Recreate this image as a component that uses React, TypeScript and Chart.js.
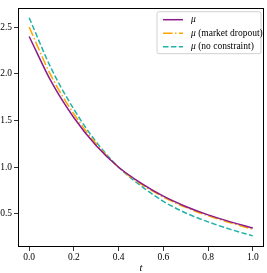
import React, { useEffect, useRef } from "react";
import { Chart, registerables } from "chart.js";

Chart.register(...registerables);

const tValues = [0, 0.1, 0.2, 0.3, 0.4, 0.5, 0.6, 0.7, 0.8, 0.9, 1.0];
const muValues = [2.4, 1.91, 1.53, 1.23, 1.0, 0.83, 0.69, 0.58, 0.49, 0.415, 0.35];
const muDropoutValues = [2.5, 1.97, 1.57, 1.25, 1.0, 0.82, 0.68, 0.57, 0.48, 0.405, 0.335];
const muNoConstraintValues = [2.6, 2.05, 1.62, 1.27, 1.0, 0.8, 0.635, 0.51, 0.415, 0.335, 0.265];

const seriesSymbol = "μ";
const seriesSuffixes = ["", " (market dropout)", " (no constraint)"];
const seriesColors = ["#8b1a8b", "#ffa500", "#20b2aa"];
const seriesDashes: number[][] = [[], [9.6, 2.4, 1.5, 2.4], [5.5, 2.4]];
const xTickLabels = ["0.0", "0.2", "0.4", "0.6", "0.8", "1.0"];
const yTickLabels = ["0.5", "1.0", "1.5", "2.0", "2.5"];
const xAxisLabel = "t";

const SERIF = "'Liberation Serif', 'DejaVu Serif', serif";

export default function App() {
  const ref = useRef<HTMLCanvasElement | null>(null);

  useEffect(() => {
    document.body.style.margin = "0";
    const canvas = ref.current;
    if (!canvas) return;

    const series = [muValues, muDropoutValues, muNoConstraintValues];

    const frame = {
      id: "frame",
      afterDraw(chart: any) {
        const { ctx, chartArea: a } = chart;
        ctx.save();
        ctx.strokeStyle = "#000";
        ctx.lineWidth = 1;
        ctx.strokeRect(Math.round(a.left) + 0.5, Math.round(a.top) + 0.5, Math.round(a.right - a.left) - 1, Math.round(a.bottom - a.top) - 1);
        ctx.restore();
      },
    };

    const legend = {
      id: "customLegend",
      afterDraw(chart: any) {
        const { ctx, chartArea: a } = chart;
        const w = 104;
        const h = 42;
        const x = a.right - w - 3;
        const y = a.top + 4;
        ctx.save();
        ctx.beginPath();
        const r = 2;
        ctx.moveTo(x + r, y);
        ctx.arcTo(x + w, y, x + w, y + h, r);
        ctx.arcTo(x + w, y + h, x, y + h, r);
        ctx.arcTo(x, y + h, x, y, r);
        ctx.arcTo(x, y, x + w, y, r);
        ctx.closePath();
        ctx.fillStyle = "rgba(255,255,255,0.8)";
        ctx.fill();
        ctx.strokeStyle = "#d0d0d0";
        ctx.lineWidth = 1;
        ctx.stroke();
        for (let i = 0; i < 3; i++) {
          const ry = y + 8 + i * 13.5;
          ctx.beginPath();
          ctx.strokeStyle = seriesColors[i];
          ctx.lineWidth = 1.5;
          ctx.setLineDash(seriesDashes[i]);
          ctx.moveTo(x + 6, ry);
          ctx.lineTo(x + 26, ry);
          ctx.stroke();
          ctx.setLineDash([]);
          ctx.fillStyle = "#000";
          ctx.textBaseline = "middle";
          ctx.textAlign = "left";
          ctx.font = `italic 9.5px ${SERIF}`;
          const tx = x + 34;
          ctx.fillText(seriesSymbol, tx, ry);
          const mw = ctx.measureText(seriesSymbol).width;
          ctx.font = `9.5px ${SERIF}`;
          ctx.fillText(seriesSuffixes[i], tx + mw, ry);
        }
        ctx.restore();
      },
    };

    const chart = new Chart(canvas, {
      type: "line",
      data: {
        labels: tValues,
        datasets: series.map((vals, i) => ({
          label: seriesSymbol + seriesSuffixes[i],
          data: tValues.map((t, j) => ({ x: t, y: vals[j] })),
          borderColor: seriesColors[i],
          borderWidth: 1.5,
          borderDash: seriesDashes[i],
          pointRadius: 0,
          fill: false,
          cubicInterpolationMode: "monotone" as const,
        })),
      },
      options: {
        animation: false,
        responsive: false,
        maintainAspectRatio: false,
        layout: { padding: { top: 1, right: 3, left: 0, bottom: 0 } },
        plugins: {
          legend: { display: false },
          tooltip: { enabled: false },
        },
        scales: {
          x: {
            type: "linear",
            min: -0.05,
            max: 1.05,
            afterFit: (s: any) => {
              s.height = 26;
            },
            ticks: {
              stepSize: 0.2,
              includeBounds: false,
              maxRotation: 0,
              padding: 1,
              color: "#000",
              font: { family: SERIF, size: 9.5 },
              callback: (v: any) => {
                const idx = Math.round(Number(v) / 0.2);
                return xTickLabels[idx] ?? "";
              },
            },
            grid: { drawOnChartArea: false, drawTicks: true, tickLength: 4, color: "#000", lineWidth: 0.8 },
            border: { display: false },
            title: {
              display: true,
              text: xAxisLabel,
              color: "#000",
              font: { family: SERIF, size: 10.5, style: "italic" },
              padding: { top: 0, bottom: -2 },
            },
          },
          y: {
            type: "linear",
            min: 0.146,
            max: 2.708,
            afterFit: (s: any) => {
              s.width = 18;
            },
            ticks: {
              stepSize: 0.5,
              includeBounds: false,
              padding: 2,
              color: "#000",
              font: { family: SERIF, size: 9.5 },
              callback: (v: any) => {
                const idx = Math.round(Number(v) / 0.5) - 1;
                return yTickLabels[idx] ?? "";
              },
            },
            grid: { drawOnChartArea: false, drawTicks: true, tickLength: 4, color: "#000", lineWidth: 0.8 },
            border: { display: false },
          },
        },
      },
      plugins: [frame, legend],
    });

    return () => chart.destroy();
  }, []);

  return (
    <canvas
      ref={ref}
      width={267}
      height={273}
      style={{ display: "block", width: "267px", height: "273px" }}
    />
  );
}
